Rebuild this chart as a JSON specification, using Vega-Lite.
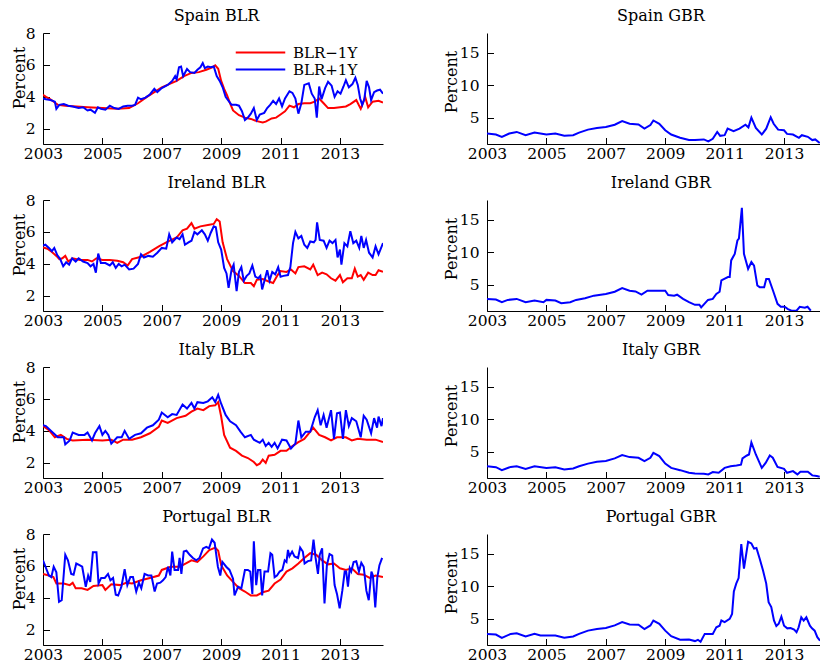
{
  "$schema": "https://vega.github.io/schema/vega-lite/v6.json",
  "padding": {"left": 11, "top": 8, "right": 0, "bottom": 0},
  "background": "white",
  "config": {
    "font": "DejaVu Serif",
    "view": {"stroke": null},
    "axis": {
      "grid": false,
      "domainColor": "black",
      "domainWidth": 1,
      "tickColor": "black",
      "tickWidth": 1,
      "tickSize": -6.5,
      "labelColor": "black",
      "labelFont": "DejaVu Serif",
      "labelFontSize": 15.5,
      "titleColor": "black",
      "titleFont": "DejaVu Serif",
      "titleFontSize": 16,
      "titleFontWeight": "normal"
    },
    "axisX": {"labelPadding": 8.5, "labelFlush": false, "labelOverlap": false},
    "axisY": {"labelPadding": 14.5, "titleAngle": 270, "titleBaseline": "alphabetic", "titleAlign": "center"},
    "title": {"font": "DejaVu Serif", "fontSize": 16, "fontWeight": "normal", "color": "black", "frame": "group", "anchor": "middle", "baseline": "alphabetic"},
    "line": {"strokeWidth": 2, "clip": true}
  },
  "datasets": {
    "es": [
      {"s":"BLR−1Y","t":2003.0,"v":4.13},{"s":"BLR−1Y","t":2003.1,"v":4.0},{"s":"BLR−1Y","t":2003.25,"v":3.85},{"s":"BLR−1Y","t":2003.5,"v":3.5},{"s":"BLR−1Y","t":2003.75,"v":3.45},{"s":"BLR−1Y","t":2004.0,"v":3.42},{"s":"BLR−1Y","t":2004.5,"v":3.35},{"s":"BLR−1Y","t":2005.0,"v":3.3},{"s":"BLR−1Y","t":2005.5,"v":3.25},{"s":"BLR−1Y","t":2005.9,"v":3.3},{"s":"BLR−1Y","t":2006.2,"v":3.6},{"s":"BLR−1Y","t":2006.5,"v":4.0},{"s":"BLR−1Y","t":2006.75,"v":4.3},{"s":"BLR−1Y","t":2007.0,"v":4.6},{"s":"BLR−1Y","t":2007.25,"v":4.8},{"s":"BLR−1Y","t":2007.5,"v":5.0},{"s":"BLR−1Y","t":2007.75,"v":5.3},{"s":"BLR−1Y","t":2008.0,"v":5.5},{"s":"BLR−1Y","t":2008.25,"v":5.55},{"s":"BLR−1Y","t":2008.5,"v":5.7},{"s":"BLR−1Y","t":2008.7,"v":5.85},{"s":"BLR−1Y","t":2008.8,"v":5.97},{"s":"BLR−1Y","t":2008.9,"v":5.76},{"s":"BLR−1Y","t":2009.0,"v":5.0},{"s":"BLR−1Y","t":2009.1,"v":4.5},{"s":"BLR−1Y","t":2009.2,"v":4.1},{"s":"BLR−1Y","t":2009.3,"v":3.6},{"s":"BLR−1Y","t":2009.4,"v":3.15},{"s":"BLR−1Y","t":2009.6,"v":2.85},{"s":"BLR−1Y","t":2009.8,"v":2.7},{"s":"BLR−1Y","t":2010.0,"v":2.62},{"s":"BLR−1Y","t":2010.2,"v":2.48},{"s":"BLR−1Y","t":2010.4,"v":2.4},{"s":"BLR−1Y","t":2010.5,"v":2.45},{"s":"BLR−1Y","t":2010.7,"v":2.65},{"s":"BLR−1Y","t":2010.85,"v":2.7},{"s":"BLR−1Y","t":2011.0,"v":2.9},{"s":"BLR−1Y","t":2011.15,"v":3.1},{"s":"BLR−1Y","t":2011.3,"v":3.45},{"s":"BLR−1Y","t":2011.45,"v":3.35},{"s":"BLR−1Y","t":2011.6,"v":3.55},{"s":"BLR−1Y","t":2011.8,"v":3.6},{"s":"BLR−1Y","t":2012.0,"v":3.6},{"s":"BLR−1Y","t":2012.15,"v":3.7},{"s":"BLR−1Y","t":2012.3,"v":3.9},{"s":"BLR−1Y","t":2012.45,"v":3.6},{"s":"BLR−1Y","t":2012.6,"v":3.3},{"s":"BLR−1Y","t":2012.8,"v":3.3},{"s":"BLR−1Y","t":2013.0,"v":3.35},{"s":"BLR−1Y","t":2013.2,"v":3.4},{"s":"BLR−1Y","t":2013.35,"v":3.55},{"s":"BLR−1Y","t":2013.55,"v":3.8},{"s":"BLR−1Y","t":2013.7,"v":3.25},{"s":"BLR−1Y","t":2013.85,"v":4.0},{"s":"BLR−1Y","t":2013.95,"v":3.35},{"s":"BLR−1Y","t":2014.1,"v":3.7},{"s":"BLR−1Y","t":2014.3,"v":3.75},{"s":"BLR−1Y","t":2014.45,"v":3.65},
      {"s":"BLR+1Y","t":2003.0,"v":3.9},{"s":"BLR+1Y","t":2003.1,"v":3.85},{"s":"BLR+1Y","t":2003.25,"v":3.8},{"s":"BLR+1Y","t":2003.4,"v":3.7},{"s":"BLR+1Y","t":2003.45,"v":3.25},{"s":"BLR+1Y","t":2003.55,"v":3.5},{"s":"BLR+1Y","t":2003.7,"v":3.55},{"s":"BLR+1Y","t":2003.85,"v":3.45},{"s":"BLR+1Y","t":2004.0,"v":3.4},{"s":"BLR+1Y","t":2004.2,"v":3.3},{"s":"BLR+1Y","t":2004.35,"v":3.35},{"s":"BLR+1Y","t":2004.5,"v":3.15},{"s":"BLR+1Y","t":2004.6,"v":3.2},{"s":"BLR+1Y","t":2004.75,"v":3.0},{"s":"BLR+1Y","t":2004.85,"v":3.35},{"s":"BLR+1Y","t":2004.95,"v":3.25},{"s":"BLR+1Y","t":2005.1,"v":3.2},{"s":"BLR+1Y","t":2005.25,"v":3.45},{"s":"BLR+1Y","t":2005.4,"v":3.3},{"s":"BLR+1Y","t":2005.55,"v":3.25},{"s":"BLR+1Y","t":2005.7,"v":3.4},{"s":"BLR+1Y","t":2005.85,"v":3.45},{"s":"BLR+1Y","t":2006.0,"v":3.45},{"s":"BLR+1Y","t":2006.1,"v":3.5},{"s":"BLR+1Y","t":2006.2,"v":3.95},{"s":"BLR+1Y","t":2006.3,"v":3.85},{"s":"BLR+1Y","t":2006.45,"v":3.95},{"s":"BLR+1Y","t":2006.6,"v":4.15},{"s":"BLR+1Y","t":2006.75,"v":4.5},{"s":"BLR+1Y","t":2006.85,"v":4.3},{"s":"BLR+1Y","t":2007.0,"v":4.55},{"s":"BLR+1Y","t":2007.2,"v":4.75},{"s":"BLR+1Y","t":2007.35,"v":5.0},{"s":"BLR+1Y","t":2007.45,"v":5.3},{"s":"BLR+1Y","t":2007.5,"v":5.1},{"s":"BLR+1Y","t":2007.58,"v":5.85},{"s":"BLR+1Y","t":2007.65,"v":5.9},{"s":"BLR+1Y","t":2007.72,"v":5.3},{"s":"BLR+1Y","t":2007.85,"v":5.75},{"s":"BLR+1Y","t":2007.95,"v":5.55},{"s":"BLR+1Y","t":2008.1,"v":5.5},{"s":"BLR+1Y","t":2008.2,"v":5.7},{"s":"BLR+1Y","t":2008.3,"v":5.85},{"s":"BLR+1Y","t":2008.38,"v":6.12},{"s":"BLR+1Y","t":2008.45,"v":5.8},{"s":"BLR+1Y","t":2008.55,"v":5.9},{"s":"BLR+1Y","t":2008.65,"v":5.85},{"s":"BLR+1Y","t":2008.75,"v":5.9},{"s":"BLR+1Y","t":2008.85,"v":5.3},{"s":"BLR+1Y","t":2008.95,"v":5.0},{"s":"BLR+1Y","t":2009.05,"v":4.6},{"s":"BLR+1Y","t":2009.15,"v":4.0},{"s":"BLR+1Y","t":2009.25,"v":3.75},{"s":"BLR+1Y","t":2009.35,"v":3.5},{"s":"BLR+1Y","t":2009.5,"v":3.5},{"s":"BLR+1Y","t":2009.6,"v":3.45},{"s":"BLR+1Y","t":2009.7,"v":3.1},{"s":"BLR+1Y","t":2009.8,"v":2.55},{"s":"BLR+1Y","t":2009.9,"v":2.7},{"s":"BLR+1Y","t":2010.0,"v":2.95},{"s":"BLR+1Y","t":2010.1,"v":3.3},{"s":"BLR+1Y","t":2010.2,"v":2.55},{"s":"BLR+1Y","t":2010.3,"v":2.9},{"s":"BLR+1Y","t":2010.45,"v":3.0},{"s":"BLR+1Y","t":2010.55,"v":3.3},{"s":"BLR+1Y","t":2010.65,"v":3.5},{"s":"BLR+1Y","t":2010.75,"v":3.75},{"s":"BLR+1Y","t":2010.85,"v":3.55},{"s":"BLR+1Y","t":2010.95,"v":3.9},{"s":"BLR+1Y","t":2011.05,"v":3.4},{"s":"BLR+1Y","t":2011.15,"v":3.9},{"s":"BLR+1Y","t":2011.3,"v":4.35},{"s":"BLR+1Y","t":2011.4,"v":4.25},{"s":"BLR+1Y","t":2011.5,"v":3.9},{"s":"BLR+1Y","t":2011.6,"v":2.95},{"s":"BLR+1Y","t":2011.7,"v":3.6},{"s":"BLR+1Y","t":2011.8,"v":4.75},{"s":"BLR+1Y","t":2011.95,"v":4.85},{"s":"BLR+1Y","t":2012.05,"v":4.2},{"s":"BLR+1Y","t":2012.15,"v":3.9},{"s":"BLR+1Y","t":2012.22,"v":2.7},{"s":"BLR+1Y","t":2012.3,"v":4.65},{"s":"BLR+1Y","t":2012.38,"v":3.85},{"s":"BLR+1Y","t":2012.5,"v":4.55},{"s":"BLR+1Y","t":2012.6,"v":4.95},{"s":"BLR+1Y","t":2012.72,"v":4.7},{"s":"BLR+1Y","t":2012.82,"v":4.0},{"s":"BLR+1Y","t":2012.92,"v":4.35},{"s":"BLR+1Y","t":2013.02,"v":4.2},{"s":"BLR+1Y","t":2013.12,"v":4.65},{"s":"BLR+1Y","t":2013.2,"v":5.05},{"s":"BLR+1Y","t":2013.3,"v":4.6},{"s":"BLR+1Y","t":2013.42,"v":4.8},{"s":"BLR+1Y","t":2013.52,"v":5.2},{"s":"BLR+1Y","t":2013.6,"v":4.75},{"s":"BLR+1Y","t":2013.68,"v":3.9},{"s":"BLR+1Y","t":2013.75,"v":3.5},{"s":"BLR+1Y","t":2013.82,"v":3.85},{"s":"BLR+1Y","t":2013.9,"v":5.0},{"s":"BLR+1Y","t":2013.98,"v":4.6},{"s":"BLR+1Y","t":2014.05,"v":3.8},{"s":"BLR+1Y","t":2014.15,"v":4.3},{"s":"BLR+1Y","t":2014.25,"v":4.4},{"s":"BLR+1Y","t":2014.35,"v":4.45},{"s":"BLR+1Y","t":2014.45,"v":4.2}
    ],
    "ie": [
      {"s":"BLR−1Y","t":2003.0,"v":5.03},{"s":"BLR−1Y","t":2003.15,"v":4.95},{"s":"BLR−1Y","t":2003.3,"v":4.75},{"s":"BLR−1Y","t":2003.45,"v":4.5},{"s":"BLR−1Y","t":2003.55,"v":4.3},{"s":"BLR−1Y","t":2003.65,"v":4.35},{"s":"BLR−1Y","t":2003.75,"v":4.5},{"s":"BLR−1Y","t":2003.85,"v":4.15},{"s":"BLR−1Y","t":2004.0,"v":4.35},{"s":"BLR−1Y","t":2004.25,"v":4.25},{"s":"BLR−1Y","t":2004.5,"v":4.25},{"s":"BLR−1Y","t":2004.65,"v":4.15},{"s":"BLR−1Y","t":2004.8,"v":4.35},{"s":"BLR−1Y","t":2005.0,"v":4.25},{"s":"BLR−1Y","t":2005.25,"v":4.25},{"s":"BLR−1Y","t":2005.5,"v":4.2},{"s":"BLR−1Y","t":2005.7,"v":4.1},{"s":"BLR−1Y","t":2005.85,"v":3.9},{"s":"BLR−1Y","t":2006.0,"v":4.3},{"s":"BLR−1Y","t":2006.3,"v":4.45},{"s":"BLR−1Y","t":2006.6,"v":4.75},{"s":"BLR−1Y","t":2006.9,"v":5.1},{"s":"BLR−1Y","t":2007.2,"v":5.4},{"s":"BLR−1Y","t":2007.5,"v":5.65},{"s":"BLR−1Y","t":2007.7,"v":6.1},{"s":"BLR−1Y","t":2007.85,"v":6.2},{"s":"BLR−1Y","t":2008.0,"v":6.55},{"s":"BLR−1Y","t":2008.1,"v":6.2},{"s":"BLR−1Y","t":2008.3,"v":6.35},{"s":"BLR−1Y","t":2008.6,"v":6.45},{"s":"BLR−1Y","t":2008.75,"v":6.5},{"s":"BLR−1Y","t":2008.85,"v":6.8},{"s":"BLR−1Y","t":2008.95,"v":6.65},{"s":"BLR−1Y","t":2009.05,"v":5.35},{"s":"BLR−1Y","t":2009.2,"v":4.3},{"s":"BLR−1Y","t":2009.4,"v":3.55},{"s":"BLR−1Y","t":2009.6,"v":3.25},{"s":"BLR−1Y","t":2009.8,"v":2.8},{"s":"BLR−1Y","t":2010.0,"v":2.8},{"s":"BLR−1Y","t":2010.1,"v":2.6},{"s":"BLR−1Y","t":2010.2,"v":3.0},{"s":"BLR−1Y","t":2010.4,"v":3.05},{"s":"BLR−1Y","t":2010.6,"v":2.9},{"s":"BLR−1Y","t":2010.75,"v":2.8},{"s":"BLR−1Y","t":2010.9,"v":3.3},{"s":"BLR−1Y","t":2011.0,"v":3.55},{"s":"BLR−1Y","t":2011.2,"v":3.5},{"s":"BLR−1Y","t":2011.35,"v":3.65},{"s":"BLR−1Y","t":2011.5,"v":3.4},{"s":"BLR−1Y","t":2011.6,"v":3.8},{"s":"BLR−1Y","t":2011.8,"v":3.85},{"s":"BLR−1Y","t":2012.0,"v":3.65},{"s":"BLR−1Y","t":2012.1,"v":3.95},{"s":"BLR−1Y","t":2012.25,"v":3.3},{"s":"BLR−1Y","t":2012.4,"v":3.45},{"s":"BLR−1Y","t":2012.55,"v":3.35},{"s":"BLR−1Y","t":2012.7,"v":3.1},{"s":"BLR−1Y","t":2012.85,"v":2.95},{"s":"BLR−1Y","t":2013.0,"v":3.3},{"s":"BLR−1Y","t":2013.1,"v":2.85},{"s":"BLR−1Y","t":2013.25,"v":3.1},{"s":"BLR−1Y","t":2013.4,"v":3.1},{"s":"BLR−1Y","t":2013.5,"v":3.7},{"s":"BLR−1Y","t":2013.6,"v":3.2},{"s":"BLR−1Y","t":2013.7,"v":3.3},{"s":"BLR−1Y","t":2013.8,"v":3.0},{"s":"BLR−1Y","t":2013.95,"v":3.45},{"s":"BLR−1Y","t":2014.1,"v":3.3},{"s":"BLR−1Y","t":2014.2,"v":3.3},{"s":"BLR−1Y","t":2014.3,"v":3.6},{"s":"BLR−1Y","t":2014.45,"v":3.5},
      {"s":"BLR+1Y","t":2003.0,"v":5.15},{"s":"BLR+1Y","t":2003.08,"v":5.2},{"s":"BLR+1Y","t":2003.2,"v":5.0},{"s":"BLR+1Y","t":2003.3,"v":4.8},{"s":"BLR+1Y","t":2003.38,"v":5.0},{"s":"BLR+1Y","t":2003.48,"v":4.55},{"s":"BLR+1Y","t":2003.58,"v":4.3},{"s":"BLR+1Y","t":2003.68,"v":3.85},{"s":"BLR+1Y","t":2003.78,"v":4.1},{"s":"BLR+1Y","t":2003.88,"v":3.95},{"s":"BLR+1Y","t":2003.98,"v":4.35},{"s":"BLR+1Y","t":2004.1,"v":4.15},{"s":"BLR+1Y","t":2004.2,"v":4.35},{"s":"BLR+1Y","t":2004.35,"v":4.15},{"s":"BLR+1Y","t":2004.5,"v":4.05},{"s":"BLR+1Y","t":2004.6,"v":3.85},{"s":"BLR+1Y","t":2004.7,"v":4.0},{"s":"BLR+1Y","t":2004.78,"v":3.45},{"s":"BLR+1Y","t":2004.86,"v":4.65},{"s":"BLR+1Y","t":2004.95,"v":4.05},{"s":"BLR+1Y","t":2005.1,"v":4.05},{"s":"BLR+1Y","t":2005.25,"v":3.9},{"s":"BLR+1Y","t":2005.35,"v":4.1},{"s":"BLR+1Y","t":2005.45,"v":3.75},{"s":"BLR+1Y","t":2005.55,"v":4.0},{"s":"BLR+1Y","t":2005.65,"v":3.85},{"s":"BLR+1Y","t":2005.75,"v":3.95},{"s":"BLR+1Y","t":2005.9,"v":3.65},{"s":"BLR+1Y","t":2006.05,"v":3.7},{"s":"BLR+1Y","t":2006.2,"v":4.0},{"s":"BLR+1Y","t":2006.3,"v":4.6},{"s":"BLR+1Y","t":2006.4,"v":4.4},{"s":"BLR+1Y","t":2006.55,"v":4.5},{"s":"BLR+1Y","t":2006.7,"v":4.45},{"s":"BLR+1Y","t":2006.85,"v":4.7},{"s":"BLR+1Y","t":2007.0,"v":5.0},{"s":"BLR+1Y","t":2007.15,"v":4.95},{"s":"BLR+1Y","t":2007.25,"v":5.85},{"s":"BLR+1Y","t":2007.35,"v":5.35},{"s":"BLR+1Y","t":2007.5,"v":5.65},{"s":"BLR+1Y","t":2007.6,"v":5.55},{"s":"BLR+1Y","t":2007.7,"v":5.85},{"s":"BLR+1Y","t":2007.78,"v":5.2},{"s":"BLR+1Y","t":2007.9,"v":5.35},{"s":"BLR+1Y","t":2008.0,"v":5.45},{"s":"BLR+1Y","t":2008.1,"v":6.0},{"s":"BLR+1Y","t":2008.2,"v":5.85},{"s":"BLR+1Y","t":2008.35,"v":6.1},{"s":"BLR+1Y","t":2008.45,"v":5.85},{"s":"BLR+1Y","t":2008.55,"v":5.45},{"s":"BLR+1Y","t":2008.65,"v":5.95},{"s":"BLR+1Y","t":2008.75,"v":6.35},{"s":"BLR+1Y","t":2008.82,"v":6.3},{"s":"BLR+1Y","t":2008.9,"v":5.35},{"s":"BLR+1Y","t":2009.0,"v":4.9},{"s":"BLR+1Y","t":2009.1,"v":3.75},{"s":"BLR+1Y","t":2009.18,"v":3.4},{"s":"BLR+1Y","t":2009.25,"v":2.5},{"s":"BLR+1Y","t":2009.35,"v":3.65},{"s":"BLR+1Y","t":2009.42,"v":3.95},{"s":"BLR+1Y","t":2009.52,"v":2.3},{"s":"BLR+1Y","t":2009.6,"v":3.5},{"s":"BLR+1Y","t":2009.68,"v":3.8},{"s":"BLR+1Y","t":2009.76,"v":2.95},{"s":"BLR+1Y","t":2009.86,"v":3.25},{"s":"BLR+1Y","t":2009.95,"v":3.4},{"s":"BLR+1Y","t":2010.05,"v":3.9},{"s":"BLR+1Y","t":2010.15,"v":3.2},{"s":"BLR+1Y","t":2010.25,"v":3.1},{"s":"BLR+1Y","t":2010.32,"v":3.25},{"s":"BLR+1Y","t":2010.38,"v":2.4},{"s":"BLR+1Y","t":2010.48,"v":3.1},{"s":"BLR+1Y","t":2010.55,"v":3.6},{"s":"BLR+1Y","t":2010.63,"v":2.95},{"s":"BLR+1Y","t":2010.72,"v":3.5},{"s":"BLR+1Y","t":2010.82,"v":3.35},{"s":"BLR+1Y","t":2010.92,"v":3.8},{"s":"BLR+1Y","t":2011.0,"v":3.2},{"s":"BLR+1Y","t":2011.1,"v":3.25},{"s":"BLR+1Y","t":2011.25,"v":3.3},{"s":"BLR+1Y","t":2011.33,"v":3.8},{"s":"BLR+1Y","t":2011.42,"v":5.3},{"s":"BLR+1Y","t":2011.5,"v":6.0},{"s":"BLR+1Y","t":2011.6,"v":5.6},{"s":"BLR+1Y","t":2011.7,"v":5.75},{"s":"BLR+1Y","t":2011.8,"v":5.2},{"s":"BLR+1Y","t":2011.9,"v":5.0},{"s":"BLR+1Y","t":2012.0,"v":5.4},{"s":"BLR+1Y","t":2012.12,"v":5.35},{"s":"BLR+1Y","t":2012.18,"v":5.5},{"s":"BLR+1Y","t":2012.23,"v":6.6},{"s":"BLR+1Y","t":2012.32,"v":5.5},{"s":"BLR+1Y","t":2012.45,"v":5.45},{"s":"BLR+1Y","t":2012.55,"v":5.0},{"s":"BLR+1Y","t":2012.65,"v":5.45},{"s":"BLR+1Y","t":2012.75,"v":5.3},{"s":"BLR+1Y","t":2012.85,"v":5.5},{"s":"BLR+1Y","t":2012.92,"v":4.4},{"s":"BLR+1Y","t":2013.0,"v":4.9},{"s":"BLR+1Y","t":2013.05,"v":3.95},{"s":"BLR+1Y","t":2013.15,"v":5.3},{"s":"BLR+1Y","t":2013.25,"v":5.1},{"s":"BLR+1Y","t":2013.35,"v":6.05},{"s":"BLR+1Y","t":2013.45,"v":5.3},{"s":"BLR+1Y","t":2013.55,"v":5.45},{"s":"BLR+1Y","t":2013.65,"v":5.0},{"s":"BLR+1Y","t":2013.72,"v":5.75},{"s":"BLR+1Y","t":2013.8,"v":5.0},{"s":"BLR+1Y","t":2013.88,"v":5.5},{"s":"BLR+1Y","t":2013.98,"v":4.7},{"s":"BLR+1Y","t":2014.1,"v":4.4},{"s":"BLR+1Y","t":2014.2,"v":5.1},{"s":"BLR+1Y","t":2014.3,"v":4.6},{"s":"BLR+1Y","t":2014.45,"v":5.3}
    ],
    "it": [
      {"s":"BLR−1Y","t":2003.0,"v":4.3},{"s":"BLR−1Y","t":2003.2,"v":4.05},{"s":"BLR−1Y","t":2003.4,"v":3.6},{"s":"BLR−1Y","t":2003.6,"v":3.75},{"s":"BLR−1Y","t":2003.8,"v":3.5},{"s":"BLR−1Y","t":2004.0,"v":3.4},{"s":"BLR−1Y","t":2004.5,"v":3.45},{"s":"BLR−1Y","t":2005.0,"v":3.4},{"s":"BLR−1Y","t":2005.3,"v":3.45},{"s":"BLR−1Y","t":2005.5,"v":3.25},{"s":"BLR−1Y","t":2005.7,"v":3.45},{"s":"BLR−1Y","t":2006.0,"v":3.45},{"s":"BLR−1Y","t":2006.3,"v":3.6},{"s":"BLR−1Y","t":2006.6,"v":3.85},{"s":"BLR−1Y","t":2006.9,"v":4.25},{"s":"BLR−1Y","t":2007.0,"v":4.65},{"s":"BLR−1Y","t":2007.2,"v":4.5},{"s":"BLR−1Y","t":2007.5,"v":4.8},{"s":"BLR−1Y","t":2007.8,"v":4.95},{"s":"BLR−1Y","t":2008.0,"v":5.2},{"s":"BLR−1Y","t":2008.2,"v":5.4},{"s":"BLR−1Y","t":2008.4,"v":5.3},{"s":"BLR−1Y","t":2008.6,"v":5.55},{"s":"BLR−1Y","t":2008.8,"v":5.6},{"s":"BLR−1Y","t":2008.9,"v":5.8},{"s":"BLR−1Y","t":2009.0,"v":4.9},{"s":"BLR−1Y","t":2009.1,"v":3.75},{"s":"BLR−1Y","t":2009.3,"v":2.95},{"s":"BLR−1Y","t":2009.5,"v":2.75},{"s":"BLR−1Y","t":2009.7,"v":2.45},{"s":"BLR−1Y","t":2009.9,"v":2.3},{"s":"BLR−1Y","t":2010.1,"v":2.05},{"s":"BLR−1Y","t":2010.2,"v":1.85},{"s":"BLR−1Y","t":2010.3,"v":1.95},{"s":"BLR−1Y","t":2010.4,"v":2.2},{"s":"BLR−1Y","t":2010.5,"v":2.0},{"s":"BLR−1Y","t":2010.6,"v":2.45},{"s":"BLR−1Y","t":2010.8,"v":2.5},{"s":"BLR−1Y","t":2011.0,"v":2.75},{"s":"BLR−1Y","t":2011.2,"v":2.75},{"s":"BLR−1Y","t":2011.4,"v":3.05},{"s":"BLR−1Y","t":2011.6,"v":3.3},{"s":"BLR−1Y","t":2011.8,"v":3.5},{"s":"BLR−1Y","t":2012.0,"v":3.95},{"s":"BLR−1Y","t":2012.1,"v":4.2},{"s":"BLR−1Y","t":2012.3,"v":3.75},{"s":"BLR−1Y","t":2012.5,"v":3.6},{"s":"BLR−1Y","t":2012.7,"v":3.4},{"s":"BLR−1Y","t":2012.9,"v":3.6},{"s":"BLR−1Y","t":2013.2,"v":3.6},{"s":"BLR−1Y","t":2013.4,"v":3.4},{"s":"BLR−1Y","t":2013.6,"v":3.5},{"s":"BLR−1Y","t":2013.9,"v":3.45},{"s":"BLR−1Y","t":2014.2,"v":3.45},{"s":"BLR−1Y","t":2014.45,"v":3.3},
      {"s":"BLR+1Y","t":2003.0,"v":4.35},{"s":"BLR+1Y","t":2003.1,"v":4.3},{"s":"BLR+1Y","t":2003.3,"v":3.95},{"s":"BLR+1Y","t":2003.5,"v":3.6},{"s":"BLR+1Y","t":2003.7,"v":3.6},{"s":"BLR+1Y","t":2003.75,"v":3.15},{"s":"BLR+1Y","t":2003.9,"v":3.4},{"s":"BLR+1Y","t":2004.0,"v":3.9},{"s":"BLR+1Y","t":2004.2,"v":3.75},{"s":"BLR+1Y","t":2004.4,"v":3.75},{"s":"BLR+1Y","t":2004.5,"v":3.9},{"s":"BLR+1Y","t":2004.65,"v":3.4},{"s":"BLR+1Y","t":2004.75,"v":3.85},{"s":"BLR+1Y","t":2004.9,"v":4.3},{"s":"BLR+1Y","t":2005.0,"v":3.75},{"s":"BLR+1Y","t":2005.1,"v":4.0},{"s":"BLR+1Y","t":2005.2,"v":3.75},{"s":"BLR+1Y","t":2005.3,"v":3.2},{"s":"BLR+1Y","t":2005.5,"v":3.6},{"s":"BLR+1Y","t":2005.65,"v":3.6},{"s":"BLR+1Y","t":2005.75,"v":4.0},{"s":"BLR+1Y","t":2005.9,"v":3.5},{"s":"BLR+1Y","t":2006.1,"v":3.75},{"s":"BLR+1Y","t":2006.3,"v":3.85},{"s":"BLR+1Y","t":2006.5,"v":4.2},{"s":"BLR+1Y","t":2006.7,"v":4.35},{"s":"BLR+1Y","t":2006.9,"v":4.7},{"s":"BLR+1Y","t":2007.0,"v":5.15},{"s":"BLR+1Y","t":2007.2,"v":4.85},{"s":"BLR+1Y","t":2007.35,"v":5.05},{"s":"BLR+1Y","t":2007.5,"v":5.0},{"s":"BLR+1Y","t":2007.7,"v":5.65},{"s":"BLR+1Y","t":2007.85,"v":5.4},{"s":"BLR+1Y","t":2008.0,"v":5.75},{"s":"BLR+1Y","t":2008.1,"v":5.4},{"s":"BLR+1Y","t":2008.2,"v":5.8},{"s":"BLR+1Y","t":2008.4,"v":5.75},{"s":"BLR+1Y","t":2008.55,"v":5.85},{"s":"BLR+1Y","t":2008.7,"v":6.1},{"s":"BLR+1Y","t":2008.8,"v":5.8},{"s":"BLR+1Y","t":2008.9,"v":6.25},{"s":"BLR+1Y","t":2009.0,"v":5.7},{"s":"BLR+1Y","t":2009.15,"v":5.0},{"s":"BLR+1Y","t":2009.3,"v":4.6},{"s":"BLR+1Y","t":2009.5,"v":4.35},{"s":"BLR+1Y","t":2009.65,"v":3.95},{"s":"BLR+1Y","t":2009.8,"v":3.6},{"s":"BLR+1Y","t":2010.0,"v":3.75},{"s":"BLR+1Y","t":2010.1,"v":3.45},{"s":"BLR+1Y","t":2010.3,"v":3.25},{"s":"BLR+1Y","t":2010.4,"v":3.45},{"s":"BLR+1Y","t":2010.5,"v":3.05},{"s":"BLR+1Y","t":2010.6,"v":3.25},{"s":"BLR+1Y","t":2010.7,"v":3.0},{"s":"BLR+1Y","t":2010.8,"v":3.25},{"s":"BLR+1Y","t":2010.9,"v":2.9},{"s":"BLR+1Y","t":2011.05,"v":3.45},{"s":"BLR+1Y","t":2011.2,"v":3.4},{"s":"BLR+1Y","t":2011.35,"v":2.9},{"s":"BLR+1Y","t":2011.5,"v":3.2},{"s":"BLR+1Y","t":2011.6,"v":4.65},{"s":"BLR+1Y","t":2011.7,"v":3.6},{"s":"BLR+1Y","t":2011.85,"v":3.95},{"s":"BLR+1Y","t":2012.0,"v":3.95},{"s":"BLR+1Y","t":2012.15,"v":4.85},{"s":"BLR+1Y","t":2012.25,"v":5.3},{"s":"BLR+1Y","t":2012.35,"v":4.35},{"s":"BLR+1Y","t":2012.45,"v":5.0},{"s":"BLR+1Y","t":2012.55,"v":4.2},{"s":"BLR+1Y","t":2012.7,"v":5.3},{"s":"BLR+1Y","t":2012.8,"v":3.5},{"s":"BLR+1Y","t":2012.9,"v":5.1},{"s":"BLR+1Y","t":2013.0,"v":5.15},{"s":"BLR+1Y","t":2013.1,"v":3.5},{"s":"BLR+1Y","t":2013.2,"v":5.3},{"s":"BLR+1Y","t":2013.3,"v":4.3},{"s":"BLR+1Y","t":2013.4,"v":4.8},{"s":"BLR+1Y","t":2013.55,"v":4.6},{"s":"BLR+1Y","t":2013.7,"v":3.6},{"s":"BLR+1Y","t":2013.8,"v":4.95},{"s":"BLR+1Y","t":2013.9,"v":4.7},{"s":"BLR+1Y","t":2014.05,"v":3.85},{"s":"BLR+1Y","t":2014.15,"v":4.8},{"s":"BLR+1Y","t":2014.25,"v":4.2},{"s":"BLR+1Y","t":2014.3,"v":4.9},{"s":"BLR+1Y","t":2014.4,"v":4.3},{"s":"BLR+1Y","t":2014.45,"v":4.8}
    ],
    "pt": [
      {"s":"BLR−1Y","t":2003.0,"v":5.5},{"s":"BLR−1Y","t":2003.2,"v":5.4},{"s":"BLR−1Y","t":2003.35,"v":5.3},{"s":"BLR−1Y","t":2003.45,"v":4.9},{"s":"BLR−1Y","t":2003.7,"v":4.9},{"s":"BLR−1Y","t":2003.9,"v":4.8},{"s":"BLR−1Y","t":2004.0,"v":4.95},{"s":"BLR−1Y","t":2004.1,"v":4.6},{"s":"BLR−1Y","t":2004.3,"v":4.6},{"s":"BLR−1Y","t":2004.5,"v":4.5},{"s":"BLR−1Y","t":2004.7,"v":4.75},{"s":"BLR−1Y","t":2005.0,"v":4.8},{"s":"BLR−1Y","t":2005.1,"v":4.5},{"s":"BLR−1Y","t":2005.3,"v":4.85},{"s":"BLR−1Y","t":2005.6,"v":4.8},{"s":"BLR−1Y","t":2005.8,"v":4.95},{"s":"BLR−1Y","t":2006.0,"v":4.9},{"s":"BLR−1Y","t":2006.3,"v":5.1},{"s":"BLR−1Y","t":2006.6,"v":5.25},{"s":"BLR−1Y","t":2006.9,"v":5.4},{"s":"BLR−1Y","t":2007.0,"v":5.75},{"s":"BLR−1Y","t":2007.3,"v":5.95},{"s":"BLR−1Y","t":2007.6,"v":5.95},{"s":"BLR−1Y","t":2007.8,"v":6.15},{"s":"BLR−1Y","t":2008.0,"v":6.35},{"s":"BLR−1Y","t":2008.2,"v":6.25},{"s":"BLR−1Y","t":2008.4,"v":6.6},{"s":"BLR−1Y","t":2008.6,"v":7.0},{"s":"BLR−1Y","t":2008.8,"v":7.15},{"s":"BLR−1Y","t":2008.9,"v":6.95},{"s":"BLR−1Y","t":2009.0,"v":6.05},{"s":"BLR−1Y","t":2009.2,"v":5.4},{"s":"BLR−1Y","t":2009.4,"v":5.0},{"s":"BLR−1Y","t":2009.6,"v":4.6},{"s":"BLR−1Y","t":2009.8,"v":4.4},{"s":"BLR−1Y","t":2010.0,"v":4.15},{"s":"BLR−1Y","t":2010.2,"v":4.15},{"s":"BLR−1Y","t":2010.4,"v":4.35},{"s":"BLR−1Y","t":2010.6,"v":4.45},{"s":"BLR−1Y","t":2010.8,"v":4.9},{"s":"BLR−1Y","t":2011.0,"v":5.15},{"s":"BLR−1Y","t":2011.2,"v":5.65},{"s":"BLR−1Y","t":2011.4,"v":5.85},{"s":"BLR−1Y","t":2011.6,"v":6.15},{"s":"BLR−1Y","t":2011.8,"v":6.5},{"s":"BLR−1Y","t":2012.0,"v":6.8},{"s":"BLR−1Y","t":2012.2,"v":6.7},{"s":"BLR−1Y","t":2012.4,"v":6.35},{"s":"BLR−1Y","t":2012.6,"v":6.1},{"s":"BLR−1Y","t":2012.8,"v":6.15},{"s":"BLR−1Y","t":2013.0,"v":5.85},{"s":"BLR−1Y","t":2013.2,"v":5.75},{"s":"BLR−1Y","t":2013.4,"v":5.85},{"s":"BLR−1Y","t":2013.6,"v":5.5},{"s":"BLR−1Y","t":2013.8,"v":5.45},{"s":"BLR−1Y","t":2014.0,"v":5.25},{"s":"BLR−1Y","t":2014.2,"v":5.4},{"s":"BLR−1Y","t":2014.45,"v":5.3},
      {"s":"BLR+1Y","t":2003.0,"v":6.35},{"s":"BLR+1Y","t":2003.2,"v":5.4},{"s":"BLR+1Y","t":2003.28,"v":5.3},{"s":"BLR+1Y","t":2003.36,"v":5.95},{"s":"BLR+1Y","t":2003.45,"v":5.6},{"s":"BLR+1Y","t":2003.54,"v":3.75},{"s":"BLR+1Y","t":2003.63,"v":3.85},{"s":"BLR+1Y","t":2003.75,"v":6.7},{"s":"BLR+1Y","t":2003.84,"v":6.35},{"s":"BLR+1Y","t":2003.95,"v":5.5},{"s":"BLR+1Y","t":2004.03,"v":5.45},{"s":"BLR+1Y","t":2004.12,"v":6.15},{"s":"BLR+1Y","t":2004.23,"v":6.05},{"s":"BLR+1Y","t":2004.32,"v":5.95},{"s":"BLR+1Y","t":2004.44,"v":4.7},{"s":"BLR+1Y","t":2004.52,"v":5.4},{"s":"BLR+1Y","t":2004.59,"v":5.0},{"s":"BLR+1Y","t":2004.68,"v":6.85},{"s":"BLR+1Y","t":2004.8,"v":6.85},{"s":"BLR+1Y","t":2004.87,"v":4.9},{"s":"BLR+1Y","t":2004.96,"v":5.25},{"s":"BLR+1Y","t":2005.08,"v":5.25},{"s":"BLR+1Y","t":2005.19,"v":5.5},{"s":"BLR+1Y","t":2005.27,"v":5.1},{"s":"BLR+1Y","t":2005.36,"v":5.25},{"s":"BLR+1Y","t":2005.45,"v":4.2},{"s":"BLR+1Y","t":2005.53,"v":4.15},{"s":"BLR+1Y","t":2005.64,"v":4.7},{"s":"BLR+1Y","t":2005.75,"v":5.8},{"s":"BLR+1Y","t":2005.84,"v":4.8},{"s":"BLR+1Y","t":2005.94,"v":5.3},{"s":"BLR+1Y","t":2006.03,"v":5.3},{"s":"BLR+1Y","t":2006.14,"v":4.4},{"s":"BLR+1Y","t":2006.23,"v":4.95},{"s":"BLR+1Y","t":2006.31,"v":4.6},{"s":"BLR+1Y","t":2006.42,"v":5.5},{"s":"BLR+1Y","t":2006.54,"v":5.4},{"s":"BLR+1Y","t":2006.65,"v":5.4},{"s":"BLR+1Y","t":2006.76,"v":4.4},{"s":"BLR+1Y","t":2006.84,"v":4.9},{"s":"BLR+1Y","t":2006.95,"v":4.95},{"s":"BLR+1Y","t":2007.04,"v":5.1},{"s":"BLR+1Y","t":2007.13,"v":5.3},{"s":"BLR+1Y","t":2007.21,"v":5.95},{"s":"BLR+1Y","t":2007.29,"v":5.4},{"s":"BLR+1Y","t":2007.35,"v":6.9},{"s":"BLR+1Y","t":2007.43,"v":5.75},{"s":"BLR+1Y","t":2007.55,"v":5.75},{"s":"BLR+1Y","t":2007.6,"v":6.5},{"s":"BLR+1Y","t":2007.66,"v":5.5},{"s":"BLR+1Y","t":2007.74,"v":6.9},{"s":"BLR+1Y","t":2007.83,"v":6.95},{"s":"BLR+1Y","t":2007.94,"v":6.7},{"s":"BLR+1Y","t":2008.05,"v":6.5},{"s":"BLR+1Y","t":2008.16,"v":6.35},{"s":"BLR+1Y","t":2008.27,"v":6.5},{"s":"BLR+1Y","t":2008.39,"v":7.1},{"s":"BLR+1Y","t":2008.5,"v":7.2},{"s":"BLR+1Y","t":2008.59,"v":7.1},{"s":"BLR+1Y","t":2008.69,"v":7.65},{"s":"BLR+1Y","t":2008.78,"v":7.45},{"s":"BLR+1Y","t":2008.89,"v":5.95},{"s":"BLR+1Y","t":2008.97,"v":5.4},{"s":"BLR+1Y","t":2009.04,"v":6.25},{"s":"BLR+1Y","t":2009.17,"v":5.95},{"s":"BLR+1Y","t":2009.28,"v":5.75},{"s":"BLR+1Y","t":2009.4,"v":5.2},{"s":"BLR+1Y","t":2009.45,"v":4.15},{"s":"BLR+1Y","t":2009.57,"v":4.7},{"s":"BLR+1Y","t":2009.68,"v":4.6},{"s":"BLR+1Y","t":2009.8,"v":5.75},{"s":"BLR+1Y","t":2009.9,"v":5.75},{"s":"BLR+1Y","t":2009.98,"v":5.65},{"s":"BLR+1Y","t":2010.05,"v":4.25},{"s":"BLR+1Y","t":2010.1,"v":7.55},{"s":"BLR+1Y","t":2010.18,"v":4.8},{"s":"BLR+1Y","t":2010.24,"v":5.75},{"s":"BLR+1Y","t":2010.32,"v":5.75},{"s":"BLR+1Y","t":2010.38,"v":4.15},{"s":"BLR+1Y","t":2010.46,"v":5.65},{"s":"BLR+1Y","t":2010.58,"v":5.65},{"s":"BLR+1Y","t":2010.66,"v":6.8},{"s":"BLR+1Y","t":2010.72,"v":6.7},{"s":"BLR+1Y","t":2010.8,"v":5.3},{"s":"BLR+1Y","t":2010.88,"v":5.4},{"s":"BLR+1Y","t":2010.97,"v":5.65},{"s":"BLR+1Y","t":2011.06,"v":5.75},{"s":"BLR+1Y","t":2011.14,"v":6.35},{"s":"BLR+1Y","t":2011.2,"v":6.25},{"s":"BLR+1Y","t":2011.25,"v":7.0},{"s":"BLR+1Y","t":2011.3,"v":6.6},{"s":"BLR+1Y","t":2011.39,"v":6.9},{"s":"BLR+1Y","t":2011.47,"v":6.6},{"s":"BLR+1Y","t":2011.59,"v":6.5},{"s":"BLR+1Y","t":2011.66,"v":7.15},{"s":"BLR+1Y","t":2011.75,"v":6.9},{"s":"BLR+1Y","t":2011.81,"v":6.15},{"s":"BLR+1Y","t":2011.92,"v":6.3},{"s":"BLR+1Y","t":2012.03,"v":6.35},{"s":"BLR+1Y","t":2012.11,"v":7.65},{"s":"BLR+1Y","t":2012.18,"v":6.5},{"s":"BLR+1Y","t":2012.26,"v":5.5},{"s":"BLR+1Y","t":2012.32,"v":6.7},{"s":"BLR+1Y","t":2012.4,"v":7.1},{"s":"BLR+1Y","t":2012.48,"v":3.65},{"s":"BLR+1Y","t":2012.56,"v":6.05},{"s":"BLR+1Y","t":2012.65,"v":6.75},{"s":"BLR+1Y","t":2012.74,"v":6.65},{"s":"BLR+1Y","t":2012.82,"v":4.8},{"s":"BLR+1Y","t":2012.9,"v":4.25},{"s":"BLR+1Y","t":2012.99,"v":3.35},{"s":"BLR+1Y","t":2013.08,"v":4.45},{"s":"BLR+1Y","t":2013.16,"v":5.65},{"s":"BLR+1Y","t":2013.21,"v":5.65},{"s":"BLR+1Y","t":2013.27,"v":4.7},{"s":"BLR+1Y","t":2013.33,"v":5.85},{"s":"BLR+1Y","t":2013.38,"v":5.65},{"s":"BLR+1Y","t":2013.46,"v":6.25},{"s":"BLR+1Y","t":2013.55,"v":6.3},{"s":"BLR+1Y","t":2013.64,"v":5.65},{"s":"BLR+1Y","t":2013.72,"v":6.2},{"s":"BLR+1Y","t":2013.8,"v":5.95},{"s":"BLR+1Y","t":2013.89,"v":4.45},{"s":"BLR+1Y","t":2013.97,"v":3.85},{"s":"BLR+1Y","t":2014.06,"v":5.65},{"s":"BLR+1Y","t":2014.11,"v":5.4},{"s":"BLR+1Y","t":2014.19,"v":3.4},{"s":"BLR+1Y","t":2014.26,"v":5.3},{"s":"BLR+1Y","t":2014.33,"v":6.05},{"s":"BLR+1Y","t":2014.42,"v":6.5}
    ],
    "esg": [
      {"t":2003.0,"v":2.6},{"t":2003.3,"v":2.45},{"t":2003.5,"v":2.1},{"t":2003.75,"v":2.6},{"t":2004.0,"v":2.85},{"t":2004.3,"v":2.35},{"t":2004.6,"v":2.75},{"t":2005.0,"v":2.45},{"t":2005.3,"v":2.6},{"t":2005.6,"v":2.25},{"t":2005.9,"v":2.35},{"t":2006.1,"v":2.75},{"t":2006.4,"v":3.2},{"t":2006.7,"v":3.45},{"t":2007.0,"v":3.6},{"t":2007.3,"v":3.95},{"t":2007.55,"v":4.5},{"t":2007.8,"v":4.1},{"t":2008.1,"v":4.0},{"t":2008.3,"v":3.35},{"t":2008.5,"v":3.9},{"t":2008.6,"v":4.6},{"t":2008.8,"v":4.1},{"t":2009.0,"v":3.1},{"t":2009.2,"v":2.45},{"t":2009.5,"v":1.95},{"t":2009.8,"v":1.6},{"t":2010.0,"v":1.6},{"t":2010.3,"v":1.7},{"t":2010.45,"v":1.4},{"t":2010.6,"v":1.8},{"t":2010.75,"v":2.85},{"t":2010.85,"v":2.25},{"t":2011.0,"v":2.35},{"t":2011.1,"v":3.35},{"t":2011.3,"v":2.95},{"t":2011.5,"v":3.35},{"t":2011.7,"v":3.95},{"t":2011.8,"v":3.55},{"t":2011.9,"v":5.05},{"t":2012.05,"v":3.45},{"t":2012.25,"v":2.45},{"t":2012.4,"v":3.35},{"t":2012.55,"v":5.1},{"t":2012.65,"v":4.1},{"t":2012.8,"v":3.2},{"t":2013.0,"v":3.1},{"t":2013.1,"v":2.55},{"t":2013.3,"v":2.45},{"t":2013.5,"v":1.95},{"t":2013.6,"v":2.35},{"t":2013.8,"v":2.1},{"t":2013.95,"v":1.6},{"t":2014.05,"v":1.7},{"t":2014.2,"v":1.15}
    ],
    "ieg": [
      {"t":2003.0,"v":2.85},{"t":2003.3,"v":2.75},{"t":2003.5,"v":2.35},{"t":2003.7,"v":2.7},{"t":2004.0,"v":2.85},{"t":2004.3,"v":2.35},{"t":2004.6,"v":2.6},{"t":2004.9,"v":2.35},{"t":2005.0,"v":2.7},{"t":2005.3,"v":2.6},{"t":2005.5,"v":2.2},{"t":2005.8,"v":2.35},{"t":2006.0,"v":2.7},{"t":2006.3,"v":2.95},{"t":2006.6,"v":3.35},{"t":2007.0,"v":3.6},{"t":2007.3,"v":3.95},{"t":2007.55,"v":4.5},{"t":2007.8,"v":4.1},{"t":2008.0,"v":4.0},{"t":2008.2,"v":3.5},{"t":2008.4,"v":4.1},{"t":2008.7,"v":4.1},{"t":2009.0,"v":4.1},{"t":2009.1,"v":3.45},{"t":2009.3,"v":3.35},{"t":2009.4,"v":3.5},{"t":2009.6,"v":2.85},{"t":2009.8,"v":2.35},{"t":2010.0,"v":1.95},{"t":2010.15,"v":1.95},{"t":2010.21,"v":1.55},{"t":2010.44,"v":2.7},{"t":2010.6,"v":2.85},{"t":2010.72,"v":3.6},{"t":2010.83,"v":3.95},{"t":2010.89,"v":5.7},{"t":2011.11,"v":6.2},{"t":2011.17,"v":6.2},{"t":2011.22,"v":8.75},{"t":2011.34,"v":9.75},{"t":2011.43,"v":11.8},{"t":2011.48,"v":12.1},{"t":2011.58,"v":16.8},{"t":2011.65,"v":9.75},{"t":2011.79,"v":7.45},{"t":2011.9,"v":8.5},{"t":2011.99,"v":7.95},{"t":2012.1,"v":4.9},{"t":2012.18,"v":4.65},{"t":2012.33,"v":4.65},{"t":2012.4,"v":5.9},{"t":2012.49,"v":5.9},{"t":2012.63,"v":4.1},{"t":2012.78,"v":2.1},{"t":2012.89,"v":1.65},{"t":2013.02,"v":1.65},{"t":2013.13,"v":1.3},{"t":2013.25,"v":1.05},{"t":2013.42,"v":1.05},{"t":2013.53,"v":1.65},{"t":2013.7,"v":1.5},{"t":2013.79,"v":1.65},{"t":2013.9,"v":1.05}
    ],
    "itg": [
      {"t":2003.0,"v":2.8},{"t":2003.3,"v":2.65},{"t":2003.5,"v":2.2},{"t":2003.8,"v":2.7},{"t":2004.0,"v":2.8},{"t":2004.3,"v":2.4},{"t":2004.6,"v":2.8},{"t":2005.0,"v":2.55},{"t":2005.3,"v":2.65},{"t":2005.6,"v":2.3},{"t":2005.9,"v":2.45},{"t":2006.1,"v":2.8},{"t":2006.4,"v":3.2},{"t":2006.7,"v":3.5},{"t":2007.0,"v":3.6},{"t":2007.3,"v":4.0},{"t":2007.55,"v":4.5},{"t":2007.8,"v":4.2},{"t":2008.1,"v":4.1},{"t":2008.3,"v":3.6},{"t":2008.5,"v":4.1},{"t":2008.6,"v":4.85},{"t":2008.8,"v":4.35},{"t":2009.0,"v":3.2},{"t":2009.2,"v":2.55},{"t":2009.5,"v":2.2},{"t":2009.8,"v":1.8},{"t":2010.0,"v":1.7},{"t":2010.3,"v":1.65},{"t":2010.45,"v":1.55},{"t":2010.6,"v":1.9},{"t":2010.8,"v":1.8},{"t":2011.0,"v":2.55},{"t":2011.2,"v":2.8},{"t":2011.4,"v":2.9},{"t":2011.55,"v":3.05},{"t":2011.6,"v":4.0},{"t":2011.75,"v":4.45},{"t":2011.82,"v":4.6},{"t":2011.9,"v":6.45},{"t":2012.05,"v":4.6},{"t":2012.25,"v":2.55},{"t":2012.38,"v":3.3},{"t":2012.52,"v":4.45},{"t":2012.62,"v":4.1},{"t":2012.78,"v":2.7},{"t":2013.0,"v":2.4},{"t":2013.1,"v":1.8},{"t":2013.3,"v":2.05},{"t":2013.45,"v":1.55},{"t":2013.55,"v":1.95},{"t":2013.8,"v":1.95},{"t":2013.95,"v":1.4},{"t":2014.1,"v":1.3},{"t":2014.2,"v":1.2}
    ],
    "ptg": [
      {"t":2003.0,"v":2.7},{"t":2003.3,"v":2.6},{"t":2003.5,"v":2.1},{"t":2003.8,"v":2.7},{"t":2004.0,"v":2.8},{"t":2004.3,"v":2.3},{"t":2004.6,"v":2.7},{"t":2004.8,"v":2.45},{"t":2005.0,"v":2.45},{"t":2005.3,"v":2.45},{"t":2005.6,"v":2.1},{"t":2005.9,"v":2.3},{"t":2006.1,"v":2.7},{"t":2006.4,"v":3.2},{"t":2006.7,"v":3.45},{"t":2007.0,"v":3.6},{"t":2007.3,"v":4.0},{"t":2007.55,"v":4.5},{"t":2007.8,"v":4.15},{"t":2008.1,"v":4.1},{"t":2008.3,"v":3.45},{"t":2008.5,"v":4.0},{"t":2008.6,"v":4.75},{"t":2008.8,"v":4.25},{"t":2009.0,"v":3.2},{"t":2009.2,"v":2.35},{"t":2009.5,"v":1.8},{"t":2009.8,"v":1.85},{"t":2010.0,"v":1.6},{"t":2010.1,"v":1.8},{"t":2010.19,"v":1.5},{"t":2010.33,"v":2.7},{"t":2010.49,"v":2.7},{"t":2010.6,"v":2.7},{"t":2010.66,"v":3.2},{"t":2010.72,"v":3.7},{"t":2010.83,"v":3.95},{"t":2010.89,"v":4.75},{"t":2011.0,"v":4.5},{"t":2011.17,"v":5.0},{"t":2011.25,"v":5.75},{"t":2011.31,"v":9.2},{"t":2011.39,"v":10.4},{"t":2011.47,"v":11.25},{"t":2011.56,"v":16.45},{"t":2011.65,"v":12.7},{"t":2011.79,"v":16.8},{"t":2011.9,"v":16.55},{"t":2011.99,"v":15.75},{"t":2012.07,"v":15.85},{"t":2012.18,"v":14.2},{"t":2012.29,"v":12.45},{"t":2012.4,"v":10.4},{"t":2012.48,"v":7.55},{"t":2012.57,"v":6.8},{"t":2012.66,"v":4.75},{"t":2012.74,"v":3.9},{"t":2012.82,"v":4.25},{"t":2012.91,"v":5.35},{"t":2013.0,"v":3.95},{"t":2013.11,"v":3.55},{"t":2013.22,"v":3.6},{"t":2013.34,"v":3.35},{"t":2013.42,"v":2.95},{"t":2013.49,"v":3.7},{"t":2013.58,"v":5.25},{"t":2013.66,"v":4.75},{"t":2013.75,"v":5.25},{"t":2013.87,"v":3.95},{"t":2013.94,"v":3.55},{"t":2014.03,"v":3.2},{"t":2014.12,"v":2.2},{"t":2014.21,"v":1.65}
    ]
  },
  "columns": 2,
  "spacing": {"row": 13, "column": 60},
  "concat": [
    {
      "title": {"text": "Spain BLR", "dx": 3.5, "offset": 2},
      "width": 340, "height": 111,
      "data": {"name": "es"},
      "mark": {"type": "line", "strokeWidth": 2, "clip": true},
      "encoding": {
        "x": {"field": "t", "type": "quantitative", "scale": {"domain": [2003, 2014.45], "nice": false, "zero": false}, "axis": {"values": [2003, 2005, 2007, 2009, 2011, 2013], "format": "d", "title": null}},
        "y": {"field": "v", "type": "quantitative", "scale": {"domain": [1.05, 8], "nice": false, "zero": false}, "axis": {"values": [2, 4, 6, 8], "title": "Percent", "titleX": -19, "titleY": 44.5}},
        "color": {"field": "s", "type": "nominal", "scale": {"domain": ["BLR−1Y", "BLR+1Y"], "range": ["#ff0000", "#0000ff"]},
          "legend": {"orient": "none", "legendX": 209, "legendY": 11, "title": null, "symbolType": "M-3.3,0H3.3", "symbolSize": 225, "symbolStrokeWidth": 2, "labelFont": "DejaVu Serif", "labelFontSize": 15, "labelColor": "black", "labelOffset": 24, "padding": 0, "rowPadding": -5}}
      }
    },
    {
      "title": {"text": "Spain GBR", "dx": 7.5, "offset": 9},
      "width": 333, "height": 111,
      "data": {"name": "esg"},
      "mark": {"type": "line", "color": "#0000ff", "strokeWidth": 2, "clip": true},
      "encoding": {
        "x": {"field": "t", "type": "quantitative", "scale": {"domain": [2003, 2014.21], "nice": false, "zero": false}, "axis": {"values": [2003, 2005, 2007, 2009, 2011, 2013], "format": "d", "title": null}},
        "y": {"field": "v", "type": "quantitative", "scale": {"domain": [1, 18], "nice": false, "zero": false}, "axis": {"values": [5, 10, 15], "title": "Percent", "titleX": -31, "titleY": 48.5}}
      }
    },
    {
      "title": {"text": "Ireland BLR", "dx": 3.5, "offset": 2},
      "width": 340, "height": 111,
      "data": {"name": "ie"},
      "mark": {"type": "line", "strokeWidth": 2, "clip": true},
      "encoding": {
        "x": {"field": "t", "type": "quantitative", "scale": {"domain": [2003, 2014.45], "nice": false, "zero": false}, "axis": {"values": [2003, 2005, 2007, 2009, 2011, 2013], "format": "d", "title": null}},
        "y": {"field": "v", "type": "quantitative", "scale": {"domain": [1.05, 8], "nice": false, "zero": false}, "axis": {"values": [2, 4, 6, 8], "title": "Percent", "titleX": -19, "titleY": 44.5}},
        "color": {"field": "s", "type": "nominal", "scale": {"domain": ["BLR−1Y", "BLR+1Y"], "range": ["#ff0000", "#0000ff"]}, "legend": null}
      }
    },
    {
      "title": {"text": "Ireland GBR", "dx": 7.5, "offset": 9},
      "width": 333, "height": 111,
      "data": {"name": "ieg"},
      "mark": {"type": "line", "color": "#0000ff", "strokeWidth": 2, "clip": true},
      "encoding": {
        "x": {"field": "t", "type": "quantitative", "scale": {"domain": [2003, 2014.21], "nice": false, "zero": false}, "axis": {"values": [2003, 2005, 2007, 2009, 2011, 2013], "format": "d", "title": null}},
        "y": {"field": "v", "type": "quantitative", "scale": {"domain": [1, 18], "nice": false, "zero": false}, "axis": {"values": [5, 10, 15], "title": "Percent", "titleX": -31, "titleY": 48.5}}
      }
    },
    {
      "title": {"text": "Italy BLR", "dx": 3.5, "offset": 2},
      "width": 340, "height": 111,
      "data": {"name": "it"},
      "mark": {"type": "line", "strokeWidth": 2, "clip": true},
      "encoding": {
        "x": {"field": "t", "type": "quantitative", "scale": {"domain": [2003, 2014.45], "nice": false, "zero": false}, "axis": {"values": [2003, 2005, 2007, 2009, 2011, 2013], "format": "d", "title": null}},
        "y": {"field": "v", "type": "quantitative", "scale": {"domain": [1.05, 8], "nice": false, "zero": false}, "axis": {"values": [2, 4, 6, 8], "title": "Percent", "titleX": -19, "titleY": 44.5}},
        "color": {"field": "s", "type": "nominal", "scale": {"domain": ["BLR−1Y", "BLR+1Y"], "range": ["#ff0000", "#0000ff"]}, "legend": null}
      }
    },
    {
      "title": {"text": "Italy GBR", "dx": 7.5, "offset": 9},
      "width": 333, "height": 111,
      "data": {"name": "itg"},
      "mark": {"type": "line", "color": "#0000ff", "strokeWidth": 2, "clip": true},
      "encoding": {
        "x": {"field": "t", "type": "quantitative", "scale": {"domain": [2003, 2014.21], "nice": false, "zero": false}, "axis": {"values": [2003, 2005, 2007, 2009, 2011, 2013], "format": "d", "title": null}},
        "y": {"field": "v", "type": "quantitative", "scale": {"domain": [1, 18], "nice": false, "zero": false}, "axis": {"values": [5, 10, 15], "title": "Percent", "titleX": -31, "titleY": 48.5}}
      }
    },
    {
      "title": {"text": "Portugal BLR", "dx": 3.5, "offset": 2},
      "width": 340, "height": 111,
      "data": {"name": "pt"},
      "mark": {"type": "line", "strokeWidth": 2, "clip": true},
      "encoding": {
        "x": {"field": "t", "type": "quantitative", "scale": {"domain": [2003, 2014.45], "nice": false, "zero": false}, "axis": {"values": [2003, 2005, 2007, 2009, 2011, 2013], "format": "d", "title": null}},
        "y": {"field": "v", "type": "quantitative", "scale": {"domain": [1.05, 8], "nice": false, "zero": false}, "axis": {"values": [2, 4, 6, 8], "title": "Percent", "titleX": -19, "titleY": 44.5}},
        "color": {"field": "s", "type": "nominal", "scale": {"domain": ["BLR−1Y", "BLR+1Y"], "range": ["#ff0000", "#0000ff"]}, "legend": null}
      }
    },
    {
      "title": {"text": "Portugal GBR", "dx": 7.5, "offset": 9},
      "width": 333, "height": 111,
      "data": {"name": "ptg"},
      "mark": {"type": "line", "color": "#0000ff", "strokeWidth": 2, "clip": true},
      "encoding": {
        "x": {"field": "t", "type": "quantitative", "scale": {"domain": [2003, 2014.21], "nice": false, "zero": false}, "axis": {"values": [2003, 2005, 2007, 2009, 2011, 2013], "format": "d", "title": null}},
        "y": {"field": "v", "type": "quantitative", "scale": {"domain": [1, 18], "nice": false, "zero": false}, "axis": {"values": [5, 10, 15], "title": "Percent", "titleX": -31, "titleY": 48.5}}
      }
    }
  ],
  "resolve": {"scale": {"color": "independent"}, "legend": {"color": "independent"}}
}
